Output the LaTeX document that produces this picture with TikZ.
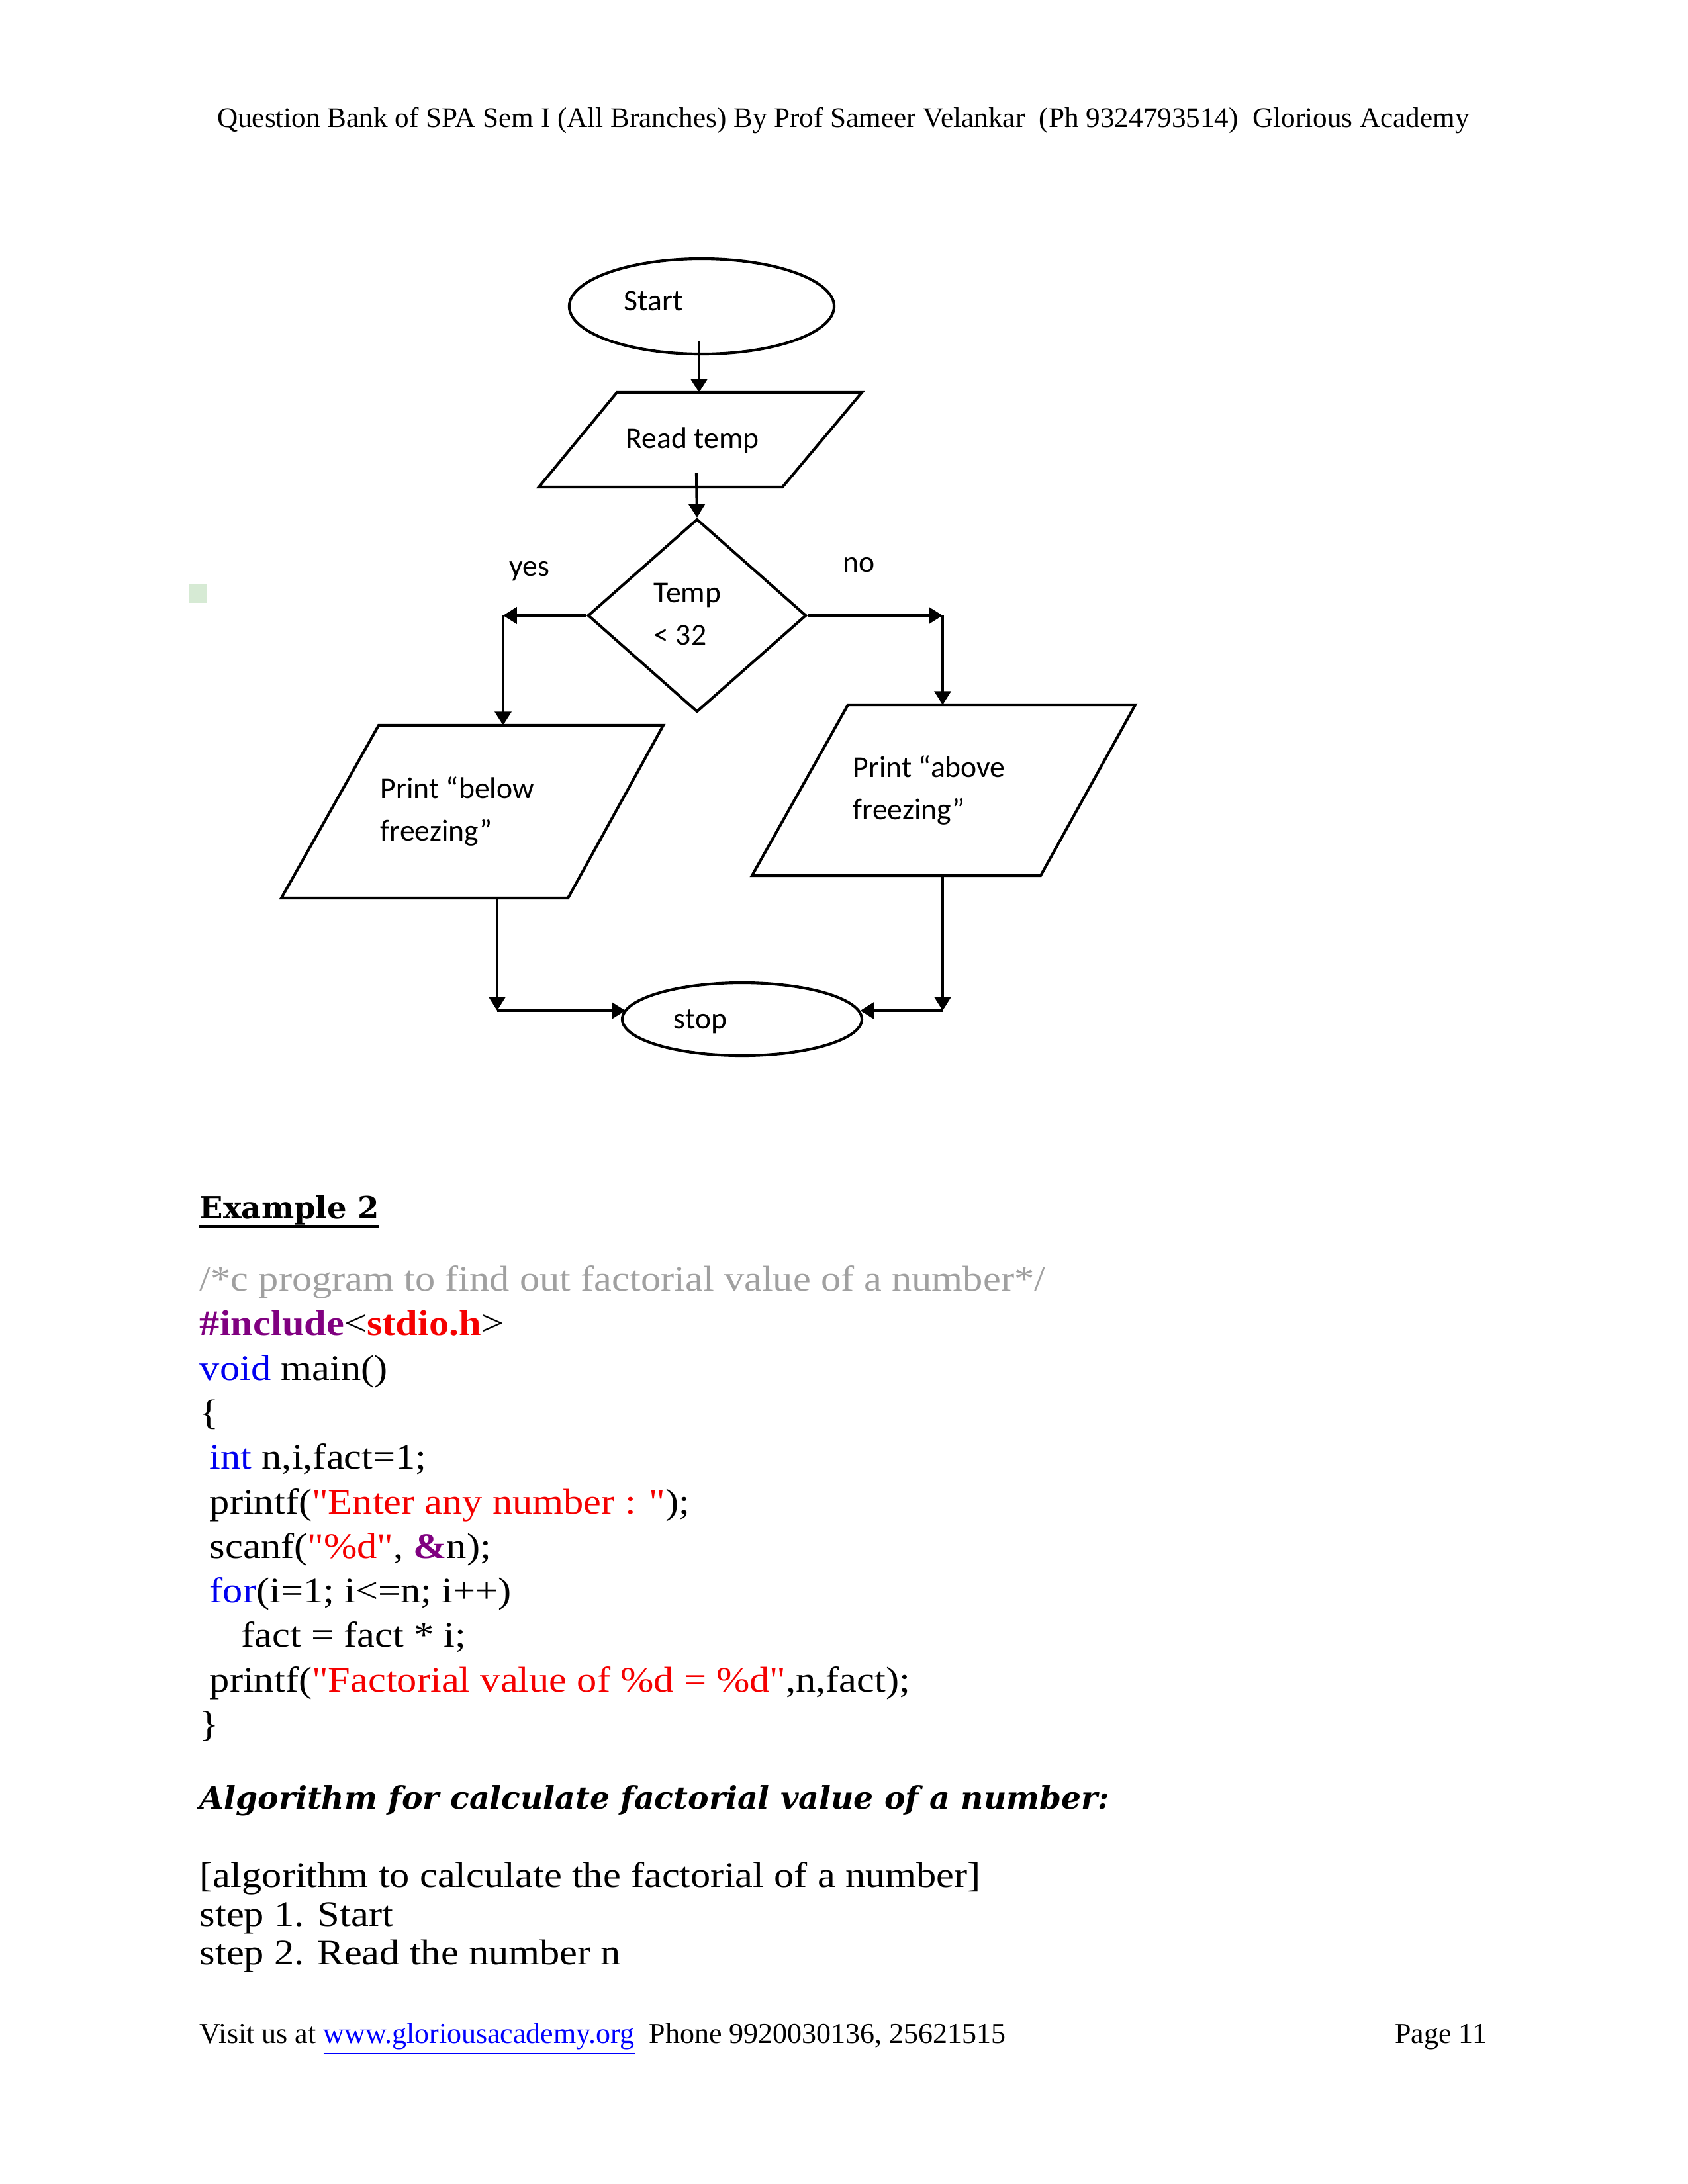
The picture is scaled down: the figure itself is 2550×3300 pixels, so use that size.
\documentclass[tikz,border=0pt]{standalone}
\usepackage{fontspec}
\setmainfont{Liberation Serif}
% serif text without TeX ligature mapping, so that " stays a straight quote
\newfontfamily\codefont{Liberation Serif}[FakeStretch=1.12]
\newfontfamily\pagefont{Liberation Serif}
\newfontfamily\flowfont{Carlito}
\newfontfamily\slabfont{DejaVu Serif}
\usetikzlibrary{shapes.geometric,arrows.meta}

\definecolor{kwblue}{RGB}{0,0,240}
\definecolor{strred}{RGB}{245,0,0}
\definecolor{pppurple}{RGB}{128,0,128}
\definecolor{cmtgray}{RGB}{160,160,160}
\definecolor{linkblue}{RGB}{0,0,255}
\definecolor{palegreen}{RGB}{214,234,212}

\begin{document}
\begin{tikzpicture}[x=0.2409pt,y=-0.2409pt,
  shapeline/.style={line width=1pt,line join=miter},
  flow/.style={line width=1pt,-{Triangle[length=5pt,width=6pt]}},
  lbl/.style={font=\flowfont\fontsize{11}{15.5}\selectfont,inner sep=0pt,align=left},
  codeline/.style={anchor=base west,inner sep=0pt,font=\codefont\fontsize{13}{15}\selectfont},
  textline/.style={anchor=base west,inner sep=0pt,font=\codefont\fontsize{13}{15}\selectfont},
  headline/.style={anchor=base west,inner sep=0pt,font=\slabfont\bfseries\fontsize{11.2}{14}\selectfont}
]
% page
\fill[white] (0,0) rectangle (2550,3300);
\useasboundingbox (0,0) rectangle (2550,3300);

% running header
\node[inner sep=0pt,anchor=base,font=\pagefont\fontsize{10.4}{12}\selectfont] (header) at (1274,192)
  {Question Bank of SPA Sem I (All Branches) By Prof Sameer Velankar\ \ (Ph 9324793514)\ \ Glorious Academy};

% small mark in the margin
\fill[palegreen] (285,883) rectangle (313,911);

% ---------- flowchart ----------
% terminals and decision
\node[ellipse,draw,shapeline,inner sep=0pt,minimum width=96.4pt,minimum height=34.7pt] (start) at (1060,463) {};
\node[lbl] (starttxt) at (987,455) {Start};

\node[diamond,draw,shapeline,inner sep=0pt,minimum width=79.5pt,minimum height=70.3pt] (dec) at (1053,930) {};
\node[lbl,anchor=west] (dectxt) at (987,928) {Temp\\< 32};

\node[ellipse,draw,shapeline,inner sep=0pt,minimum width=87.2pt,minimum height=26.5pt] (stop) at (1121,1540) {};
\node[lbl] (stoptxt) at (1058,1544) {stop};

% input / output boxes
\draw[shapeline] (932,593) -- (1302,593) -- (1182,736) -- (814,736) -- cycle;
\node[lbl] (readtemp) at (1046,665) {Read temp};

\draw[shapeline] (572,1096) -- (1002,1096) -- (858,1357) -- (425,1357) -- cycle;
\node[lbl,anchor=west] (below) at (574,1226) {Print “below\\freezing”};

\draw[shapeline] (1281,1065) -- (1715,1065) -- (1572,1323) -- (1136,1323) -- cycle;
\node[lbl,anchor=west] (above) at (1288,1194) {Print “above\\freezing”};

% branch labels
\node[lbl] (yes) at (800,863) {yes};
\node[lbl] (no) at (1298,854) {no};

% connection points
\coordinate (s-out) at (1056,515);
\coordinate (rt-in) at (1056,593);
\coordinate (rt-out) at (1052,715);
\coordinate (yc) at (760,930);
\coordinate (pb-in) at (760,1096);
\coordinate (nc) at (1424,930);
\coordinate (pa-in) at (1424,1065);
\coordinate (pb-out) at (751,1357);
\coordinate (lc) at (751,1527);
\coordinate (pa-out) at (1424,1323);
\coordinate (rc) at (1424,1527);

% connectors
\draw[flow] (s-out) -- (rt-in);
\draw[flow] (rt-out) -- (dec.north);
\draw[flow] (dec.west) -- (yc);
\draw[flow] (yc) -- (pb-in);
\draw[flow] (dec.east) -- (nc);
\draw[flow] (nc) -- (pa-in);
\draw[flow] (pb-out) -- (lc);
\draw[flow] (lc) -- (lc -| stop.175.8);
\draw[flow] (pa-out) -- (rc);
\draw[flow] (rc) -- (rc -| stop.4.2);

% ---------- Example 2 ----------
\node[headline] (ex) at (301,1841) {Example 2};
\draw[line width=0.9pt] ([yshift=-2.8pt]ex.base west) -- ([yshift=-2.8pt]ex.base east);

\node[codeline] (c1) at (301,1950) {\color{cmtgray}/*c program to find out factorial value of a number*/};
\node[codeline] (c2) at (301,2017) {{\bfseries\color{pppurple}\#include}<{\bfseries\color{strred}stdio.h}>};
\node[codeline] (c3) at (301,2085) {{\color{kwblue}void} main()};
\node[codeline] (c4) at (301,2152) {\{};
\node[codeline] (c5) at (316,2219) {{\color{kwblue}int} n,i,fact=1;};
\node[codeline] (c6) at (316,2287) {printf({\color{strred}"Enter any number : "});};
\node[codeline] (c7) at (316,2354) {scanf({\color{strred}"\%d"}, {\bfseries\color{pppurple}\&}n);};
\node[codeline] (c8) at (316,2421) {{\color{kwblue}for}(i=1; i<=n; i++)};
\node[codeline] (c9) at (364,2488) {fact = fact * i;};
\node[codeline] (c10) at (316,2556) {printf({\color{strred}"Factorial value of \%d = \%d"},n,fact);};
\node[codeline] (c11) at (301,2623) {\}};

\node[headline,font=\slabfont\bfseries\itshape\fontsize{11.4}{14}\selectfont] (alg) at (301,2733)
  {Algorithm for calculate factorial value of a number:};

\node[textline] (a1) at (301,2851) {[algorithm to calculate the factorial of a number]};
\node[textline] (a2) at (301,2910) {step 1. Start};
\node[textline] (a3) at (301,2968) {step 2. Read the number n};

% running footer
\node[inner sep=0pt,anchor=base west,font=\pagefont\fontsize{10.6}{12}\selectfont] (footer) at (301,3087)
  {Visit us at {\color{linkblue}\underline{www.gloriousacademy.org}}\ \ Phone 9920030136, 25621515};
\node[inner sep=0pt,anchor=base east,font=\pagefont\fontsize{10.6}{12}\selectfont] (pageno) at (2247,3087) {Page 11};
\end{tikzpicture}
\end{document}
